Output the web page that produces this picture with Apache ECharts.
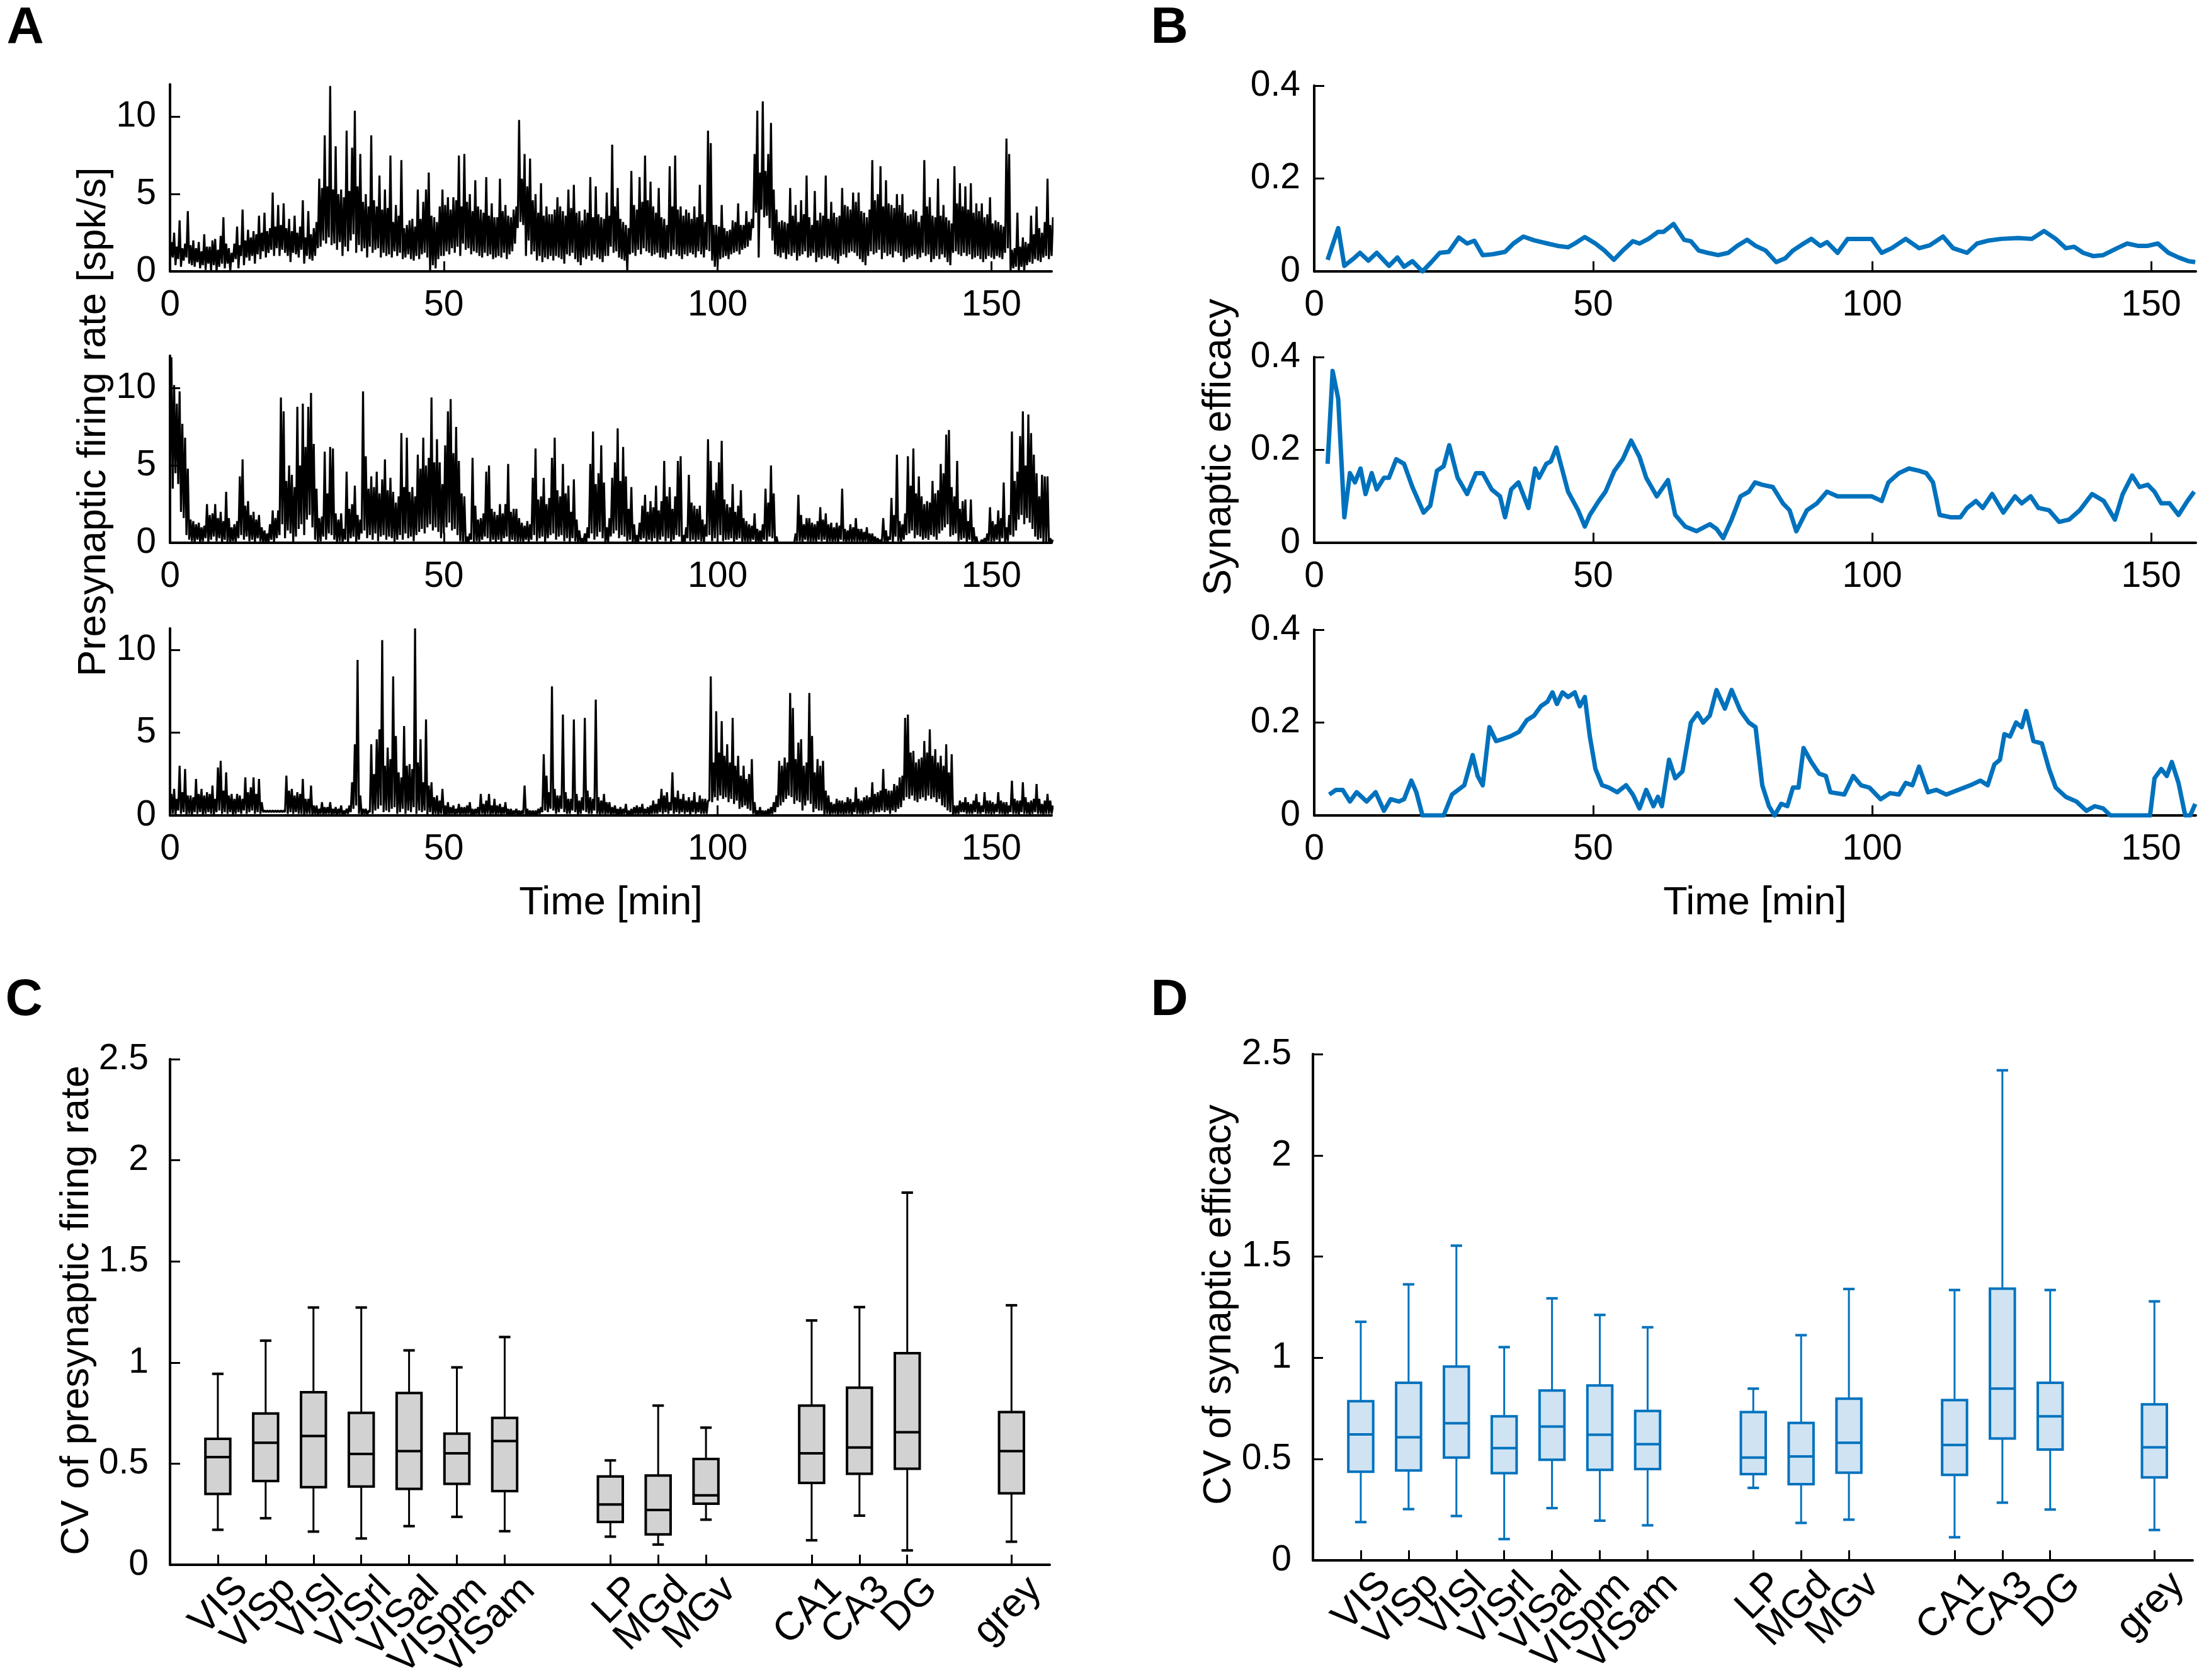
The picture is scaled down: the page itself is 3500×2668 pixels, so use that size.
<!DOCTYPE html>
<html><head><meta charset="utf-8">
<script src="https://cdn.jsdelivr.net/npm/echarts@6/dist/echarts.min.js"></script>
<style>html,body{margin:0;padding:0;background:#fff}#c{width:3500px;height:2668px}</style>
</head><body><div id="c"></div>
<script>
// ---------- DATA ----------
// Firing rate, read in 0.5-min bins: "Lo" = value at the bin start, "Hi" = value a quarter minute later
const rateBin = 0.5;
const rate1Hi = [1.9,2.5,1.6,3.3,1.5,1.8,3.9,1.7,2.0,1.5,1.9,1.3,2.4,1.6,1.6,2.0,2.1,1.4,2.3,3.5,
1.8,1.5,1.2,1.8,2.9,1.7,4.0,2.0,2.7,2.2,2.6,2.4,3.6,2.5,3.8,2.6,2.8,5.1,2.9,4.3,
3.0,4.4,2.8,3.4,2.6,3.6,2.5,2.9,4.6,2.2,3.9,2.4,2.8,3.2,6.0,5.4,8.8,5.5,12.0,5.3,
8.1,5.0,5.3,4.8,9.1,5.2,8.0,10.4,5.5,7.6,4.5,5.0,4.2,8.8,4.6,4.2,6.2,4.0,5.3,4.1,
7.5,3.2,4.3,3.6,7.2,2.8,3.0,3.3,3.4,2.9,5.3,3.4,4.5,5.3,6.4,3.6,3.5,3.2,4.2,5.3,
4.3,4.8,4.0,4.8,4.6,7.5,4.2,7.6,4.5,5.0,3.9,5.9,4.2,4.0,3.8,6.1,3.6,4.4,3.5,3.5,
6.0,3.9,4.3,3.6,3.5,4.0,4.2,9.8,6.0,7.6,5.5,7.3,4.6,5.0,3.8,5.7,3.6,4.2,3.7,3.7,
4.0,4.8,4.2,3.9,3.6,5.3,4.1,5.6,3.8,3.9,3.3,4.0,3.8,6.1,3.5,5.5,3.7,3.5,3.4,5.1,
3.6,8.2,4.2,5.4,3.4,3.2,3.0,2.8,6.5,4.3,4.0,6.1,4.5,7.5,4.6,5.8,4.2,3.8,5.4,3.5,
3.4,3.0,6.8,4.2,7.5,4.0,4.2,3.6,4.0,3.8,3.4,4.2,3.5,5.6,3.7,3.2,9.1,8.3,3.0,3.0,
2.9,4.3,2.8,2.6,2.7,3.3,3.2,4.4,3.0,3.0,3.9,3.2,3.4,7.6,10.4,6.4,11.0,6.5,7.6,9.6,
5.3,4.0,3.2,3.3,3.2,3.1,5.4,3.6,4.3,3.2,4.6,3.7,6.2,3.5,3.0,5.2,3.3,3.8,3.6,6.2,
3.4,4.5,3.8,3.5,3.6,5.4,4.3,4.2,4.0,5.1,4.5,5.1,3.9,3.8,3.5,4.0,7.2,4.6,5.0,6.8,
4.2,5.9,4.4,4.3,4.1,5.0,4.3,5.0,3.8,3.6,3.7,4.0,3.9,3.2,3.6,7.2,4.2,4.8,3.6,3.5,
6.0,3.6,4.3,3.5,3.3,3.1,6.8,4.4,5.7,4.2,5.5,4.0,5.7,3.8,4.4,3.9,4.4,3.5,3.7,4.8,
3.1,3.3,3.2,3.0,2.9,8.6,7.6,1.4,1.5,3.8,1.6,2.2,1.9,1.8,3.6,2.4,4.2,2.8,2.5,3.2,
6.0,3.0,3.5];
const rate1Lo = [0.6,0.9,0.4,0.8,0.3,0.7,0.9,0.5,0.4,0.3,0.6,0.2,0.4,0.1,0.5,0.0,0.4,0.0,0.3,0.5,
0.2,0.5,0.0,0.6,0.8,0.2,1.0,0.4,0.9,0.7,1.0,0.5,1.1,0.8,1.3,0.9,1.2,1.4,1.0,1.5,
1.0,1.4,1.2,1.0,0.6,1.2,1.1,0.9,1.4,0.5,1.0,0.8,0.7,1.0,1.5,1.6,2.0,1.8,2.2,1.7,
1.8,1.4,1.9,1.0,1.6,1.3,2.0,2.4,1.2,1.7,1.3,1.5,0.9,1.6,1.2,1.4,1.5,0.9,1.2,1.0,
1.1,0.9,1.3,1.0,1.2,0.8,0.9,1.1,0.8,0.7,1.0,0.8,1.1,1.2,0.9,0.0,0.4,0.2,0.8,1.0,
1.0,1.3,1.1,1.5,1.2,1.6,1.0,1.8,1.4,1.5,1.1,1.3,1.2,1.0,0.9,1.2,1.0,1.1,0.8,0.9,
1.0,0.9,1.2,0.8,1.1,1.3,1.8,2.8,3.2,3.0,1.0,2.0,1.1,1.3,0.7,1.0,0.6,0.9,0.8,1.0,
0.7,1.0,0.9,0.8,0.5,1.1,1.0,1.2,0.8,0.6,0.4,0.9,0.8,1.0,0.7,1.1,0.9,0.8,0.6,1.0,
1.0,1.6,1.2,1.3,0.9,0.8,0.7,0.0,1.1,1.2,1.0,1.4,1.1,1.5,1.3,1.2,1.0,1.1,1.2,0.9,
0.9,0.8,1.2,1.0,1.4,1.1,1.0,0.8,1.1,1.0,1.2,1.1,0.9,1.3,1.1,0.9,1.4,1.3,0.7,0.3,
0.3,0.8,0.9,1.0,0.8,1.1,1.2,1.3,1.1,1.4,1.5,1.6,2.0,2.8,3.8,0.9,4.0,3.5,3.6,2.8,
2.0,1.1,1.0,0.9,1.2,0.8,1.1,1.0,1.2,0.7,1.0,1.1,1.3,0.9,1.0,1.2,0.6,0.9,0.8,1.0,
0.9,1.0,0.8,0.7,0.5,1.0,1.1,0.9,1.2,1.3,1.2,1.0,0.8,0.6,0.4,1.0,1.3,1.1,1.2,1.4,
0.8,1.2,1.0,1.1,0.9,1.3,1.2,1.0,0.6,0.8,0.9,1.0,1.1,0.8,0.9,1.2,1.0,1.1,0.6,0.8,
1.0,0.8,1.1,0.9,0.6,0.4,1.2,1.3,1.1,1.0,1.2,1.0,1.1,0.8,0.9,1.0,0.8,0.6,0.8,1.0,
0.9,0.8,1.0,0.9,0.8,1.2,1.5,0.0,0.2,0.3,0.0,0.3,0.0,0.4,0.6,0.5,0.8,0.7,0.6,0.9,
1.0,0.8,1.0];
const rate2Hi = [12.0,10.2,9.0,9.8,7.7,6.8,4.8,1.5,1.4,1.2,1.3,1.0,1.1,2.5,1.8,1.9,2.5,1.6,2.0,1.4,
3.3,1.6,1.0,1.2,1.4,4.3,5.4,2.4,2.7,1.8,2.0,1.5,1.8,1.0,0.8,0.6,1.2,2.1,1.6,2.1,
9.4,8.5,4.0,5.0,4.4,3.6,8.8,5.0,9.0,6.2,8.8,9.7,6.4,3.5,1.6,1.7,5.9,3.2,6.2,6.1,
1.9,1.5,1.9,0.9,4.6,2.2,2.5,3.7,1.8,1.5,9.8,5.6,3.5,4.3,3.6,4.6,3.2,4.1,5.4,3.4,
4.2,3.3,2.6,3.0,7.1,3.6,6.8,3.3,3.6,3.0,5.7,4.8,6.8,5.0,5.5,9.4,5.2,6.7,5.2,3.8,
6.3,8.5,9.3,5.8,7.5,5.3,3.2,3.0,0.4,0.6,5.5,2.4,1.5,1.6,1.9,4.6,5.0,2.2,2.0,1.8,
2.5,1.9,2.5,5.1,2.0,2.2,2.2,1.6,1.3,1.1,1.4,1.2,4.2,6.1,2.8,3.0,4.2,2.5,2.9,5.5,
6.8,3.4,3.0,5.1,3.2,3.7,2.0,4.1,1.5,0.8,0.3,0.6,1.0,5.1,7.2,3.8,4.5,6.3,3.9,1.0,
1.6,4.2,5.2,7.4,4.0,6.2,4.3,2.2,3.6,1.2,0.5,1.3,2.4,3.1,2.0,2.7,2.3,3.7,2.1,2.7,
5.3,3.0,3.6,2.2,3.0,5.3,5.6,0.5,1.0,4.4,2.6,2.4,2.2,2.4,1.5,1.2,6.7,5.3,3.4,3.9,
5.2,6.6,2.8,2.5,2.3,3.8,2.0,2.4,3.4,1.6,1.4,1.2,1.1,1.9,0.9,0.8,1.2,3.5,2.6,5.0,
3.2,0.4,0.0,0.0,0.0,0.0,0.0,0.0,0.6,3.1,1.8,1.2,1.6,1.6,1.3,1.2,1.4,2.3,1.5,1.9,
1.2,1.3,1.0,1.3,1.1,3.5,0.9,0.8,1.2,1.0,1.6,0.9,0.9,0.7,1.0,0.6,0.6,0.4,0.3,0.2,
1.6,0.8,0.4,2.9,1.8,5.7,1.4,1.2,1.9,5.6,3.7,6.1,3.2,4.3,3.0,2.5,2.7,2.6,4.0,3.2,
3.4,5.1,4.5,7.0,7.3,3.6,3.0,5.3,2.2,2.7,2.8,1.4,2.8,1.0,0.4,0.0,0.2,0.3,0.6,2.3,
1.4,1.2,2.1,1.6,3.9,1.0,1.8,7.2,4.0,4.6,6.9,8.5,5.0,8.3,7.1,5.7,4.5,3.0,4.4,4.3,
4.3,0.3,0.2];
const rate2Lo = [4.0,3.5,4.5,3.8,2.0,1.6,0.5,0.2,0.1,0.0,0.2,0.0,0.1,0.3,0.0,0.2,0.4,0.1,0.3,0.0,
0.2,0.0,0.0,0.1,0.0,0.3,0.5,0.2,0.4,0.1,0.2,0.0,0.3,0.1,0.0,0.0,0.0,0.2,0.0,0.3,
0.5,1.2,0.3,0.8,0.6,0.0,0.4,0.9,1.2,0.5,1.5,1.8,1.0,0.2,0.0,0.1,0.4,0.2,0.6,0.5,
0.2,0.0,0.1,0.0,0.2,0.0,0.3,0.4,0.0,0.2,0.6,0.8,0.3,0.5,0.2,0.6,0.1,0.4,0.5,0.2,
0.4,0.3,0.0,0.2,0.5,0.2,0.6,0.3,0.4,0.1,0.5,0.7,0.9,0.6,1.0,1.2,0.8,1.0,0.7,0.3,
0.6,1.0,1.3,0.8,0.9,0.5,0.1,0.0,0.0,0.0,0.2,0.0,0.1,0.0,0.2,0.4,0.3,0.0,0.2,0.0,
0.2,0.0,0.3,0.4,0.0,0.2,0.1,0.0,0.1,0.0,0.2,0.0,0.2,0.5,0.1,0.3,0.4,0.0,0.3,0.5,
0.6,0.2,0.4,0.5,0.1,0.3,0.0,0.3,0.1,0.0,0.0,0.0,0.0,0.3,0.6,0.2,0.4,0.7,0.3,0.0,
0.0,0.4,0.6,0.8,0.3,0.5,0.4,0.1,0.2,0.0,0.0,0.0,0.2,0.3,0.0,0.2,0.1,0.3,0.0,0.2,
0.4,0.1,0.3,0.0,0.2,0.5,0.4,0.0,0.0,0.3,0.1,0.2,0.0,0.2,0.1,0.0,0.4,0.5,0.1,0.3,
0.4,0.5,0.1,0.2,0.2,0.3,0.0,0.2,0.3,0.0,0.1,0.0,0.1,0.2,0.0,0.0,0.0,0.2,0.1,0.4,
0.3,0.0,0.0,0.0,0.0,0.0,0.0,0.0,0.0,0.1,0.1,0.0,0.2,0.1,0.0,0.1,0.0,0.2,0.1,0.2,
0.0,0.1,0.0,0.1,0.0,0.2,0.1,0.0,0.1,0.0,0.1,0.0,0.1,0.0,0.1,0.0,0.0,0.0,0.0,0.0,
0.1,0.0,0.0,0.2,0.0,0.4,0.1,0.0,0.2,0.5,0.6,0.8,0.3,0.5,0.4,0.2,0.3,0.2,0.5,0.4,
0.2,0.6,0.8,1.0,1.2,0.4,0.5,0.6,0.1,0.2,0.3,0.0,0.2,0.0,0.0,0.0,0.0,0.0,0.0,0.1,
0.0,0.1,0.2,0.0,0.3,0.0,0.1,0.5,0.4,0.8,1.5,1.8,1.2,1.6,1.3,0.9,0.4,0.2,0.3,0.0,
0.0,0.0,0.0];
const rate3Hi = [1.3,1.6,1.0,3.0,1.4,2.8,1.2,1.2,1.1,2.2,1.3,1.6,1.2,1.4,1.3,1.8,1.0,2.9,3.3,1.5,
2.6,1.2,1.3,1.0,1.3,1.2,1.0,2.3,1.4,1.7,2.3,1.3,2.2,0.8,0.3,0.3,0.3,0.3,0.3,0.3,
0.3,0.3,2.4,1.5,1.6,1.2,1.4,1.3,2.2,1.0,1.0,1.8,0.6,0.6,0.4,0.8,0.5,0.5,0.8,0.4,
0.5,0.4,0.6,0.3,0.4,0.6,2.0,4.3,9.4,1.2,0.4,0.4,0.3,4.3,2.5,4.6,5.2,10.6,3.0,4.1,
3.4,8.4,4.8,2.6,2.3,5.4,3.0,3.1,2.8,11.3,3.2,4.6,2.0,5.8,1.8,2.0,1.1,1.2,0.9,1.6,
0.6,0.8,0.5,0.6,0.4,0.7,0.5,0.5,0.6,0.8,0.4,0.4,0.5,1.3,0.7,0.9,1.3,0.6,1.0,0.6,
0.7,0.5,0.8,0.4,0.4,0.3,0.4,0.3,0.3,1.8,0.4,0.3,0.3,0.3,0.4,0.5,3.7,2.4,1.4,7.8,
1.6,1.2,1.2,6.1,1.4,1.0,1.0,5.8,1.3,0.9,1.1,5.9,1.5,1.1,1.0,7.0,1.1,0.9,1.3,0.8,
0.8,0.5,0.6,0.4,0.5,0.4,0.7,0.3,0.4,0.5,0.6,0.5,0.7,0.4,0.5,0.6,0.9,0.7,1.0,1.6,
1.2,1.4,0.8,2.6,1.1,1.5,1.0,1.3,0.9,1.1,0.9,1.4,0.8,1.2,1.0,1.0,0.9,8.4,3.2,6.3,
3.8,5.7,3.6,4.3,3.2,5.9,3.0,3.6,2.4,3.0,2.2,2.5,3.4,0.8,0.3,0.5,0.3,0.3,0.4,0.5,
0.8,1.2,3.3,3.0,3.5,3.2,7.4,6.5,3.4,4.4,4.6,3.0,3.2,7.4,4.8,2.6,3.4,3.0,3.3,1.5,
1.2,0.8,0.7,1.0,0.9,0.9,0.8,1.1,1.0,0.8,1.7,1.0,0.9,1.1,1.2,1.1,2.0,1.3,1.4,1.5,
2.8,1.6,1.5,1.5,1.9,1.8,2.3,2.4,5.9,6.1,3.8,3.9,3.2,3.4,3.5,4.5,3.8,5.2,3.6,4.0,
3.2,3.6,3.0,4.3,2.6,3.7,0.6,0.6,0.9,0.8,1.1,0.8,0.7,0.9,1.3,0.8,0.6,1.4,0.9,0.9,
0.8,0.7,1.4,0.9,0.8,0.8,0.6,2.1,1.0,0.9,0.9,2.0,1.1,0.8,0.9,1.0,1.9,1.0,0.7,0.9,
1.3,0.9,0.6];
const rate3Lo = [0.2,0.1,0.0,0.3,0.1,0.2,0.0,0.1,0.0,0.2,0.1,0.2,0.0,0.1,0.2,0.1,0.0,0.2,0.3,0.1,
0.2,0.1,0.2,0.0,0.1,0.2,0.1,0.3,0.1,0.2,0.3,0.1,0.2,0.1,0.2,0.2,0.2,0.2,0.2,0.2,
0.2,0.2,0.2,0.1,0.2,0.1,0.2,0.1,0.1,0.0,0.1,0.1,0.0,0.1,0.0,0.1,0.0,0.1,0.1,0.0,
0.1,0.0,0.1,0.0,0.1,0.1,0.2,0.4,0.6,0.1,0.0,0.1,0.0,0.2,0.1,0.3,0.4,0.6,0.2,0.3,
0.2,0.4,0.5,0.1,0.2,0.4,0.1,0.3,0.2,0.5,0.1,0.3,0.2,0.3,0.0,0.2,0.0,0.1,0.0,0.1,
0.1,0.0,0.0,0.1,0.0,0.1,0.0,0.1,0.0,0.1,0.0,0.0,0.1,0.0,0.1,0.0,0.1,0.0,0.1,0.0,
0.1,0.0,0.1,0.0,0.0,0.0,0.1,0.0,0.0,0.1,0.0,0.0,0.0,0.0,0.0,0.1,0.2,0.3,0.2,0.4,
0.3,0.1,0.2,0.4,0.2,0.1,0.1,0.3,0.2,0.0,0.1,0.3,0.2,0.1,0.1,0.3,0.1,0.0,0.1,0.0,
0.1,0.0,0.1,0.0,0.0,0.0,0.1,0.0,0.0,0.0,0.1,0.0,0.1,0.0,0.1,0.0,0.1,0.1,0.1,0.2,
0.1,0.2,0.1,0.3,0.1,0.2,0.1,0.2,0.1,0.2,0.0,0.2,0.1,0.2,0.1,0.1,0.1,0.9,0.8,1.1,
0.9,1.2,1.0,1.1,0.8,1.0,0.7,0.9,0.4,0.5,0.6,0.4,0.3,0.1,0.0,0.0,0.0,0.0,0.0,0.0,
0.1,0.2,0.5,0.6,0.8,1.0,1.2,1.1,0.7,0.9,0.8,0.3,0.6,0.9,0.7,0.2,0.4,0.3,0.3,0.0,
0.1,0.0,0.1,0.1,0.0,0.1,0.0,0.1,0.1,0.0,0.2,0.1,0.1,0.0,0.1,0.1,0.2,0.1,0.2,0.2,
0.3,0.2,0.3,0.1,0.3,0.2,0.4,0.5,0.9,1.1,1.0,1.2,0.9,0.8,1.0,1.1,0.9,1.2,1.0,1.1,
0.8,1.0,0.6,0.5,0.3,0.2,0.0,0.1,0.1,0.2,0.2,0.1,0.1,0.1,0.2,0.1,0.1,0.2,0.1,0.1,
0.1,0.1,0.2,0.1,0.1,0.0,0.1,0.2,0.1,0.1,0.0,0.2,0.1,0.1,0.0,0.1,0.2,0.1,0.1,0.0,
0.1,0.1,0.1];
const rateMax = [12.1, 12.1, 11.3];

// synaptic efficacy: [time (min), efficacy]
const eff1 = [[2.4,0.025],[4.3,0.093],[5.4,0.012],[7,0.027],[8.2,0.04],[9.7,0.023],[11.2,0.04],[13.4,0.012],[14.9,0.03],[16.1,0.01],[17.6,0.022],[19.4,0.0],[21,0.02],[22.5,0.04],[24.1,0.042],[25.9,0.073],[27.4,0.06],[28.7,0.066],[30.2,0.035],[32,0.037],[34.2,0.042],[35.7,0.06],[37.5,0.075],[39.4,0.067],[41.8,0.06],[43.6,0.055],[45.5,0.052],[46.7,0.06],[48.5,0.074],[50.4,0.06],[52,0.045],[53.7,0.025],[55.3,0.045],[57.1,0.065],[58.3,0.06],[59.9,0.07],[61.6,0.085],[62.6,0.085],[64.4,0.102],[66.3,0.068],[67.5,0.065],[68.9,0.045],[70.5,0.04],[72.4,0.035],[74.2,0.04],[75.8,0.055],[77.6,0.068],[79.1,0.055],[80.9,0.045],[82.8,0.02],[84.4,0.028],[85.8,0.045],[87.7,0.06],[89.1,0.07],[90.7,0.055],[91.9,0.063],[93.8,0.04],[95.6,0.07],[96.8,0.07],[98.7,0.07],[99.9,0.07],[101.7,0.04],[103.5,0.05],[106,0.07],[108.4,0.05],[110.3,0.056],[112.7,0.075],[114.5,0.05],[117,0.04],[118.8,0.06],[120.7,0.066],[123.1,0.07],[126.2,0.072],[128.6,0.07],[130.8,0.087],[132.9,0.07],[134.7,0.05],[136.2,0.053],[137.8,0.04],[139.6,0.033],[141.4,0.035],[143.9,0.05],[145.7,0.06],[147.6,0.055],[149.4,0.055],[151.2,0.06],[153.1,0.04],[154.9,0.03],[156.7,0.022],[157.9,0.02]];
const eff2 = [[2.4,0.17],[3.3,0.37],[4.3,0.31],[5.4,0.055],[6.4,0.15],[7.3,0.13],[8.3,0.16],[9.2,0.105],[10.3,0.15],[11.2,0.115],[12.5,0.14],[13.4,0.14],[14.7,0.18],[16.1,0.17],[17.6,0.12],[19.6,0.065],[20.8,0.08],[22,0.155],[23.2,0.165],[24.2,0.21],[25.7,0.14],[27.4,0.105],[29,0.15],[30.2,0.15],[31.8,0.115],[33.3,0.1],[34.2,0.055],[35.3,0.115],[36.6,0.13],[38.4,0.075],[39.6,0.16],[40.3,0.14],[41.6,0.17],[42.4,0.175],[43.4,0.205],[45.5,0.11],[47.3,0.07],[48.5,0.035],[49.4,0.06],[51,0.09],[52.2,0.11],[53.8,0.155],[55.3,0.18],[56.8,0.22],[58.3,0.185],[59.5,0.14],[61.4,0.1],[63.4,0.135],[64.7,0.06],[66.5,0.035],[68.5,0.025],[70.9,0.04],[72.1,0.03],[73.3,0.01],[74.8,0.05],[76.4,0.1],[77.9,0.11],[79,0.13],[80.3,0.125],[82.2,0.12],[84,0.085],[85.2,0.07],[86.4,0.025],[88.3,0.07],[90.1,0.085],[91.9,0.11],[93.8,0.1],[95.6,0.1],[97.5,0.1],[99.9,0.1],[101.7,0.09],[102.9,0.13],[104.8,0.15],[106.6,0.16],[108.4,0.155],[109.7,0.15],[110.9,0.13],[112.1,0.06],[114,0.055],[115.8,0.055],[117,0.075],[118.6,0.09],[119.8,0.075],[121.5,0.105],[123.5,0.065],[125.6,0.1],[126.8,0.085],[128.4,0.1],[129.8,0.075],[131.7,0.07],[133.5,0.045],[135.3,0.05],[137.2,0.07],[139.4,0.105],[141.5,0.09],[143.5,0.05],[144.9,0.105],[146.6,0.145],[147.9,0.12],[149.4,0.125],[150.6,0.11],[151.8,0.085],[153.3,0.085],[154.9,0.06],[156.5,0.09],[157.7,0.11]];
const eff3 = [[2.7,0.045],[3.9,0.055],[5.1,0.055],[6.4,0.03],[7.6,0.05],[9.4,0.03],[11,0.05],[12.5,0.01],[13.7,0.035],[15.2,0.03],[16.1,0.035],[17.4,0.075],[18.3,0.05],[19.4,0],[23.2,0],[24.7,0.045],[26.9,0.065],[28.4,0.13],[29.3,0.085],[30.2,0.065],[31.4,0.19],[32.6,0.16],[33.9,0.165],[35.1,0.17],[36.7,0.18],[38.1,0.205],[39.4,0.215],[40.6,0.235],[41.8,0.245],[42.7,0.265],[43.5,0.24],[44.5,0.265],[45.5,0.255],[46.7,0.265],[47.6,0.235],[48.5,0.255],[49.4,0.17],[50.4,0.1],[51.6,0.065],[52.8,0.06],[54.3,0.05],[55.9,0.065],[57.1,0.045],[58.3,0.015],[59.5,0.055],[60.8,0.02],[61.6,0.04],[62.3,0.02],[63.6,0.12],[64.7,0.08],[66,0.095],[67.5,0.2],[68.7,0.22],[69.7,0.2],[70.9,0.215],[72.1,0.27],[73.6,0.23],[74.8,0.27],[76.4,0.225],[77.9,0.2],[79.1,0.19],[80.3,0.065],[81.5,0.02],[82.5,0],[83.7,0.025],[84.8,0.02],[85.8,0.06],[86.8,0.06],[87.7,0.145],[89.1,0.115],[90.5,0.09],[91.7,0.085],[92.5,0.05],[95,0.045],[96.6,0.085],[98,0.065],[99.5,0.06],[101.5,0.035],[103.2,0.048],[104.8,0.045],[106,0.07],[107.2,0.065],[108.4,0.105],[110,0.05],[111.5,0.055],[113.3,0.045],[115.4,0.055],[117.6,0.065],[119.4,0.075],[120.7,0.065],[121.9,0.11],[122.9,0.12],[123.7,0.175],[124.7,0.17],[125.8,0.2],[126.8,0.19],[127.6,0.225],[128.9,0.16],[130.4,0.155],[131.7,0.1],[132.9,0.06],[134.7,0.04],[136.6,0.03],[138.4,0.01],[139.9,0.02],[141.4,0.015],[142.7,0],[149.8,0],[150.6,0.08],[151.8,0.1],[152.8,0.085],[153.7,0.115],[154.9,0.07],[156.1,0],[157,0],[157.9,0.025]];

const regions = ['VIS','VISp','VISl','VISrl','VISal','VISpm','VISam','LP','MGd','MGv','CA1','CA3','DG','grey'];
const regionPos = [1,2,3,4,5,6,7,9.21,10.21,11.21,13.42,14.42,15.42,17.6];
// [lower whisker, Q1, median, Q3, upper whisker]
const cvRate = [[0.173,0.350,0.532,0.623,0.944],[0.230,0.414,0.603,0.748,1.108],[0.164,0.384,0.637,0.853,1.272],[0.130,0.387,0.548,0.751,1.272],[0.191,0.375,0.562,0.849,1.060],[0.237,0.400,0.551,0.648,0.976],[0.166,0.364,0.612,0.726,1.126],[0.139,0.212,0.298,0.437,0.516],[0.100,0.150,0.271,0.441,0.787],[0.223,0.302,0.343,0.523,0.678],[0.121,0.405,0.551,0.787,1.208],[0.243,0.450,0.580,0.876,1.274],[0.071,0.475,0.655,1.046,1.840],[0.114,0.353,0.562,0.755,1.283]];
const cvEff = [[0.189,0.438,0.622,0.786,1.178],[0.253,0.444,0.608,0.877,1.363],[0.219,0.508,0.677,0.957,1.554],[0.105,0.431,0.554,0.711,1.053],[0.258,0.497,0.661,0.839,1.294],[0.196,0.447,0.620,0.864,1.212],[0.173,0.451,0.574,0.738,1.151],[0.358,0.426,0.508,0.732,0.848],[0.185,0.376,0.513,0.679,1.112],[0.201,0.433,0.581,0.798,1.340],[0.114,0.422,0.570,0.791,1.335],[0.285,0.602,0.848,1.342,2.420],[0.251,0.547,0.711,0.877,1.335],[0.150,0.410,0.558,0.770,1.279]];

const timeTicks = [0,50,100,150];
const rateTicks = [0,5,10];
const effTicks = [0,0.2,0.4];

// ---------- CHART ----------
const FONT = '"Liberation Sans", Arial, Helvetica, sans-serif';
const TICK = 57, TITLE = 63, CATFONT = 63;
const BLUE = '#0072BD';

const grids = [
  {left:270, top:134, width:1400, height:297},
  {left:270, top:565, width:1400, height:297},
  {left:270, top:998, width:1400, height:297},
  {left:2087, top:136, width:1400, height:295},
  {left:2087, top:567, width:1400, height:295},
  {left:2087, top:1000, width:1400, height:295},
  {left:270, top:1682, width:1397, height:803},
  {left:2085, top:1674, width:1397, height:804}
];

const axLine = {show:true, onZero:false, lineStyle:{color:'#000', width:4}};
const lbl = (extra) => Object.assign({color:'#000', fontSize:TICK, fontFamily:FONT, showMinLabel:true, showMaxLabel:true, hideOverlap:false}, extra);
const tick = (vals) => Object.assign({show:true, inside:true, length:16, lineStyle:{color:'#000', width:3}}, vals ? {customValues: vals} : {});

function timeAxis(gi, max, named) {
  return {type:'value', gridIndex:gi, min:0, max:max, axisLine:axLine,
    axisTick:tick(timeTicks), axisLabel:lbl({customValues:timeTicks, margin:26}),
    splitLine:{show:false},
    name: named ? 'Time [min]' : '', nameLocation:'middle', nameGap:108,
    nameTextStyle:{fontSize:TITLE, fontFamily:FONT, color:'#000'}};
}
function valAxis(gi, max, ticks) {
  return {type:'value', gridIndex:gi, min:0, max:max, axisLine:axLine,
    axisTick:tick(ticks), axisLabel:lbl({customValues:ticks, margin:22}),
    splitLine:{show:false}};
}
function regionAxis(gi) {
  return {type:'value', gridIndex:gi, min:0, max:18.4, axisLine:axLine,
    axisTick:tick(regionPos), axisLabel:{show:false}, splitLine:{show:false}};
}
function cvAxis(gi) {
  return {type:'value', gridIndex:gi, min:0, max:2.5, interval:0.5, axisLine:axLine,
    axisTick:tick(null), axisLabel:lbl({margin:34}), splitLine:{show:false}};
}

function rateSeries(gi, lo, hi) {
  const data = [];
  lo.forEach((v, i) => { data.push([i*rateBin, v]); data.push([i*rateBin + rateBin/2, hi[i]]); });
  return {type:'line', xAxisIndex:gi, yAxisIndex:gi, data:data,
    showSymbol:false, symbol:'none', lineStyle:{color:'#000', width:3.2, join:'bevel'}, silent:true};
}
function effSeries(gi, arr) {
  return {type:'line', xAxisIndex:gi, yAxisIndex:gi, data:arr,
    showSymbol:false, symbol:'none', lineStyle:{color:BLUE, width:7, join:'round'}, silent:true};
}
function boxSeries(gi, stats, stroke, fill) {
  return {type:'custom', xAxisIndex:gi, yAxisIndex:gi, silent:true, clip:false,
    data: stats.map((s,i)=>[regionPos[i]].concat(s)),
    encode:{x:0, y:[1,2,3,4,5]},
    renderItem:(params, api)=>{
      const x = api.value(0);
      const lo = api.coord([x, api.value(1)]), q1 = api.coord([x, api.value(2)]),
            md = api.coord([x, api.value(3)]), q3 = api.coord([x, api.value(4)]),
            hi = api.coord([x, api.value(5)]), base = api.coord([x, 0]);
      const bw = api.size([0.52, 0])[0], cw = api.size([0.24, 0])[0];
      const cx = lo[0];
      return {type:'group', children:[
        {type:'line', shape:{x1:cx,y1:hi[1],x2:cx,y2:q3[1]}, style:{stroke:stroke, lineWidth:3}},
        {type:'line', shape:{x1:cx,y1:q1[1],x2:cx,y2:lo[1]}, style:{stroke:stroke, lineWidth:3}},
        {type:'line', shape:{x1:cx-cw/2,y1:hi[1],x2:cx+cw/2,y2:hi[1]}, style:{stroke:stroke, lineWidth:4}},
        {type:'line', shape:{x1:cx-cw/2,y1:lo[1],x2:cx+cw/2,y2:lo[1]}, style:{stroke:stroke, lineWidth:4}},
        {type:'rect', shape:{x:cx-bw/2, y:q3[1], width:bw, height:q1[1]-q3[1]}, style:{fill:fill, stroke:stroke, lineWidth:4}},
        {type:'line', shape:{x1:cx-bw/2,y1:md[1],x2:cx+bw/2,y2:md[1]}, style:{stroke:stroke, lineWidth:4}},
        {type:'text', x:base[0]+38, y:base[1]+30, rotation:Math.PI/4,
          style:{text:regions[params.dataIndex], fill:'#000', fontSize:CATFONT, fontFamily:FONT, align:'right', verticalAlign:'middle'}}
      ]};
    }};
}

function txt(x, y, s, size, rot, bold) {
  return {type:'text', x:x, y:y, rotation:rot||0, silent:true,
    style:{text:s, fill:'#000', fontSize:size, fontFamily:FONT, fontWeight:bold?'bold':'normal',
      align:'center', verticalAlign:'middle'}};
}

const option = {
  animation:false,
  backgroundColor:'#fff',
  textStyle:{fontFamily:FONT},
  grid: grids,
  xAxis: [timeAxis(0,161,false), timeAxis(1,161,false), timeAxis(2,161,true),
          timeAxis(3,158,false), timeAxis(4,158,false), timeAxis(5,158,true),
          regionAxis(6), regionAxis(7)],
  yAxis: [valAxis(0,rateMax[0],rateTicks), valAxis(1,rateMax[1],rateTicks), valAxis(2,rateMax[2],rateTicks),
          valAxis(3,0.4,effTicks), valAxis(4,0.4,effTicks), valAxis(5,0.4,effTicks),
          cvAxis(6), cvAxis(7)],
  series: [rateSeries(0,rate1Lo,rate1Hi), rateSeries(1,rate2Lo,rate2Hi), rateSeries(2,rate3Lo,rate3Hi),
           effSeries(3,eff1), effSeries(4,eff2), effSeries(5,eff3),
           boxSeries(6,cvRate,'#000','#d2d2d2'), boxSeries(7,cvEff,BLUE,'#cfe3f3')],
  graphic: [
    txt(40,45,'A',82,0,true), txt(1857,45,'B',82,0,true),
    txt(38,1589,'C',82,0,true), txt(1857,1589,'D',82,0,true),
    txt(150,670,'Presynaptic firing rate [spk/s]',TITLE,Math.PI/2),
    txt(1937,710,'Synaptic efficacy',TITLE,Math.PI/2),
    txt(123,2081,'CV of presynaptic firing rate',TITLE,Math.PI/2),
    txt(1937,2072,'CV of synaptic efficacy',TITLE,Math.PI/2)
  ]
};
const chart = echarts.init(document.getElementById('c'), null, {renderer:'canvas'});
chart.setOption(option);
</script>
</body></html>
